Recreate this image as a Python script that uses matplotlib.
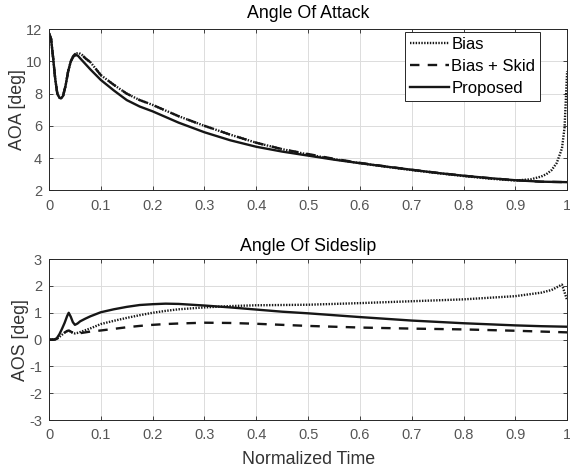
import matplotlib
matplotlib.use("Agg")
import matplotlib.pyplot as plt

plt.rcParams['font.family'] = ['Liberation Sans', 'DejaVu Sans']
plt.rcParams['axes.unicode_minus'] = False

# --- angle of attack ---
t_aoa_prop = [0, 0.004, 0.008, 0.012, 0.016, 0.02, 0.023, 0.027, 0.032, 0.037, 0.042,
              0.047, 0.052, 0.056, 0.06, 0.07, 0.08, 0.1, 0.125, 0.15, 0.175, 0.2, 0.25,
              0.3, 0.35, 0.4, 0.45, 0.5, 0.55, 0.6, 0.65, 0.7, 0.75, 0.8, 0.85, 0.9, 0.95, 1.0]
aoa_prop = [11.75, 11.4, 10.2, 8.9, 8.0, 7.75, 7.7, 7.85, 8.5, 9.4, 10.0,
            10.3, 10.4, 10.35, 10.2, 9.85, 9.5, 8.85, 8.2, 7.6, 7.2, 6.9, 6.2,
            5.6, 5.1, 4.7, 4.4, 4.15, 3.9, 3.68, 3.47, 3.27, 3.07, 2.9, 2.75, 2.62, 2.53, 2.5]

t_aoa_skid = [0, 0.004, 0.008, 0.012, 0.016, 0.02, 0.023, 0.027, 0.032, 0.037, 0.042,
              0.047, 0.052, 0.058, 0.064, 0.07, 0.08, 0.1, 0.125, 0.15, 0.175, 0.2, 0.25,
              0.3, 0.35, 0.4, 0.45, 0.5, 0.55, 0.6, 0.65, 0.7, 0.75, 0.8, 0.85, 0.9, 0.95, 1.0]
aoa_skid = [11.75, 11.4, 10.2, 8.9, 8.0, 7.75, 7.7, 7.85, 8.5, 9.4, 10.0,
            10.35, 10.5, 10.52, 10.4, 10.2, 9.95, 9.15, 8.55, 8.0, 7.6, 7.3, 6.6,
            6.0, 5.45, 4.95, 4.55, 4.25, 3.95, 3.7, 3.48, 3.27, 3.08, 2.9, 2.75, 2.62, 2.53, 2.5]

t_aoa_bias = [0, 0.004, 0.008, 0.012, 0.016, 0.02, 0.023, 0.027, 0.032, 0.037, 0.042,
              0.047, 0.052, 0.058, 0.064, 0.07, 0.08, 0.1, 0.125, 0.15, 0.175, 0.2, 0.25,
              0.3, 0.35, 0.4, 0.45, 0.5, 0.55, 0.6, 0.65, 0.7, 0.75, 0.8, 0.85, 0.9, 0.93,
              0.95, 0.96, 0.97, 0.98, 0.99, 0.995, 1.0]
aoa_bias = [11.75, 11.4, 10.2, 8.9, 8.0, 7.75, 7.7, 7.85, 8.5, 9.4, 10.0,
            10.35, 10.5, 10.52, 10.4, 10.2, 9.95, 9.15, 8.55, 8.0, 7.6, 7.3, 6.6,
            6.0, 5.45, 4.95, 4.55, 4.22, 3.93, 3.68, 3.46, 3.25, 3.06, 2.88, 2.72, 2.6, 2.68,
            2.85, 3.0, 3.25, 3.7, 4.6, 5.9, 9.4]

# --- angle of sideslip ---
t_aos = [0, 0.01, 0.015, 0.02, 0.025, 0.03, 0.035, 0.038, 0.042, 0.046, 0.05, 0.055,
         0.06, 0.07, 0.08, 0.1, 0.125, 0.15, 0.175, 0.2, 0.225, 0.25, 0.3, 0.35, 0.4,
         0.45, 0.5, 0.6, 0.7, 0.8, 0.9, 0.95, 1.0]
aos_prop = [0, 0.0, 0.05, 0.2, 0.4, 0.62, 0.88, 1.0, 0.85, 0.65, 0.55, 0.6,
            0.68, 0.78, 0.87, 1.02, 1.13, 1.22, 1.29, 1.32, 1.34, 1.33, 1.27, 1.2, 1.12,
            1.04, 0.98, 0.84, 0.71, 0.61, 0.53, 0.5, 0.48]
aos_skid = [0, 0.0, 0.03, 0.1, 0.18, 0.26, 0.32, 0.34, 0.3, 0.25, 0.22, 0.22,
            0.24, 0.27, 0.3, 0.34, 0.4, 0.46, 0.51, 0.55, 0.58, 0.6, 0.63, 0.62, 0.59,
            0.55, 0.51, 0.45, 0.41, 0.38, 0.33, 0.3, 0.27]

t_aos_bias = [0, 0.01, 0.015, 0.02, 0.025, 0.03, 0.035, 0.038, 0.042, 0.046, 0.05, 0.055,
              0.06, 0.07, 0.08, 0.1, 0.125, 0.15, 0.175, 0.2, 0.225, 0.25, 0.3, 0.35, 0.4,
              0.45, 0.5, 0.6, 0.7, 0.8, 0.9, 0.95, 0.97, 0.99, 1.0]
aos_bias = [0, 0.0, 0.03, 0.1, 0.18, 0.26, 0.32, 0.33, 0.3, 0.25, 0.23, 0.25,
            0.28, 0.35, 0.42, 0.58, 0.7, 0.81, 0.91, 1.0, 1.07, 1.13, 1.2, 1.25, 1.28,
            1.29, 1.3, 1.36, 1.43, 1.5, 1.62, 1.75, 1.85, 2.05, 1.47]

xticks = [0, 0.1, 0.2, 0.3, 0.4, 0.5, 0.6, 0.7, 0.8, 0.9, 1]
xticklabels = ['0', '0.1', '0.2', '0.3', '0.4', '0.5', '0.6', '0.7', '0.8', '0.9', '1']

col = '#161616'
lw = 1.7
dot = (0, (0.6, 0.6))
dash = (0, (4, 3.5))
fs = 12.8

fig = plt.figure(figsize=(5.7, 4.72), dpi=100)
ax1 = fig.add_axes([0.086, 0.597, 0.909, 0.341])
ax2 = fig.add_axes([0.086, 0.110, 0.909, 0.341])

ax1.plot(t_aoa_bias, aoa_bias, color=col, lw=lw, linestyle=dot, label='Bias')
ax1.plot(t_aoa_skid, aoa_skid, color=col, lw=lw, linestyle=dash, label='Bias + Skid')
ax1.plot(t_aoa_prop, aoa_prop, color=col, lw=lw, linestyle='-', label='Proposed')

ax2.plot(t_aos_bias, aos_bias, color=col, lw=lw, linestyle=dot)
ax2.plot(t_aos, aos_skid, color=col, lw=lw, linestyle=dash)
ax2.plot(t_aos, aos_prop, color=col, lw=lw, linestyle='-')

for ax in (ax1, ax2):
    ax.set_xlim(0, 1)
    ax.set_xticks(xticks)
    ax.set_xticklabels(xticklabels)
    ax.grid(True, color='#dcdcdc', linewidth=0.7)
    ax.set_axisbelow(True)
    ax.tick_params(direction='in', top=True, right=True, length=3, width=0.6,
                   labelsize=10.5, colors='#262626', labelcolor='#555555', pad=5)
    ax.tick_params(axis='x', pad=6)
    for s in ax.spines.values():
        s.set_color('#262626')
        s.set_linewidth(0.7)

ax1.set_ylim(2, 12)
ax1.set_yticks([2, 4, 6, 8, 10, 12])
ax1.set_ylabel('AOA [deg]', fontsize=fs, color='#333333', labelpad=0)
ax1.set_title('Angle Of Attack', fontsize=fs, pad=8)

ax2.set_ylim(-3, 3)
ax2.set_yticks([-3, -2, -1, 0, 1, 2, 3])
ax2.set_ylabel('AOS [deg]', fontsize=fs, color='#333333', labelpad=0)
ax2.set_title('Angle Of Sideslip', fontsize=fs, pad=6)
ax2.set_xlabel('Normalized Time', fontsize=fs, color='#333333', labelpad=6)

leg = ax1.legend(loc='upper right', bbox_to_anchor=(0.948, 0.985), fontsize=12,
                 frameon=True, fancybox=False, edgecolor='#262626', framealpha=1,
                 handlelength=2.35, handletextpad=0.15, borderpad=0.3, labelspacing=0.42,
                 borderaxespad=0.0)
leg.get_frame().set_linewidth(0.7)

fig.savefig('out.png', dpi=100)
